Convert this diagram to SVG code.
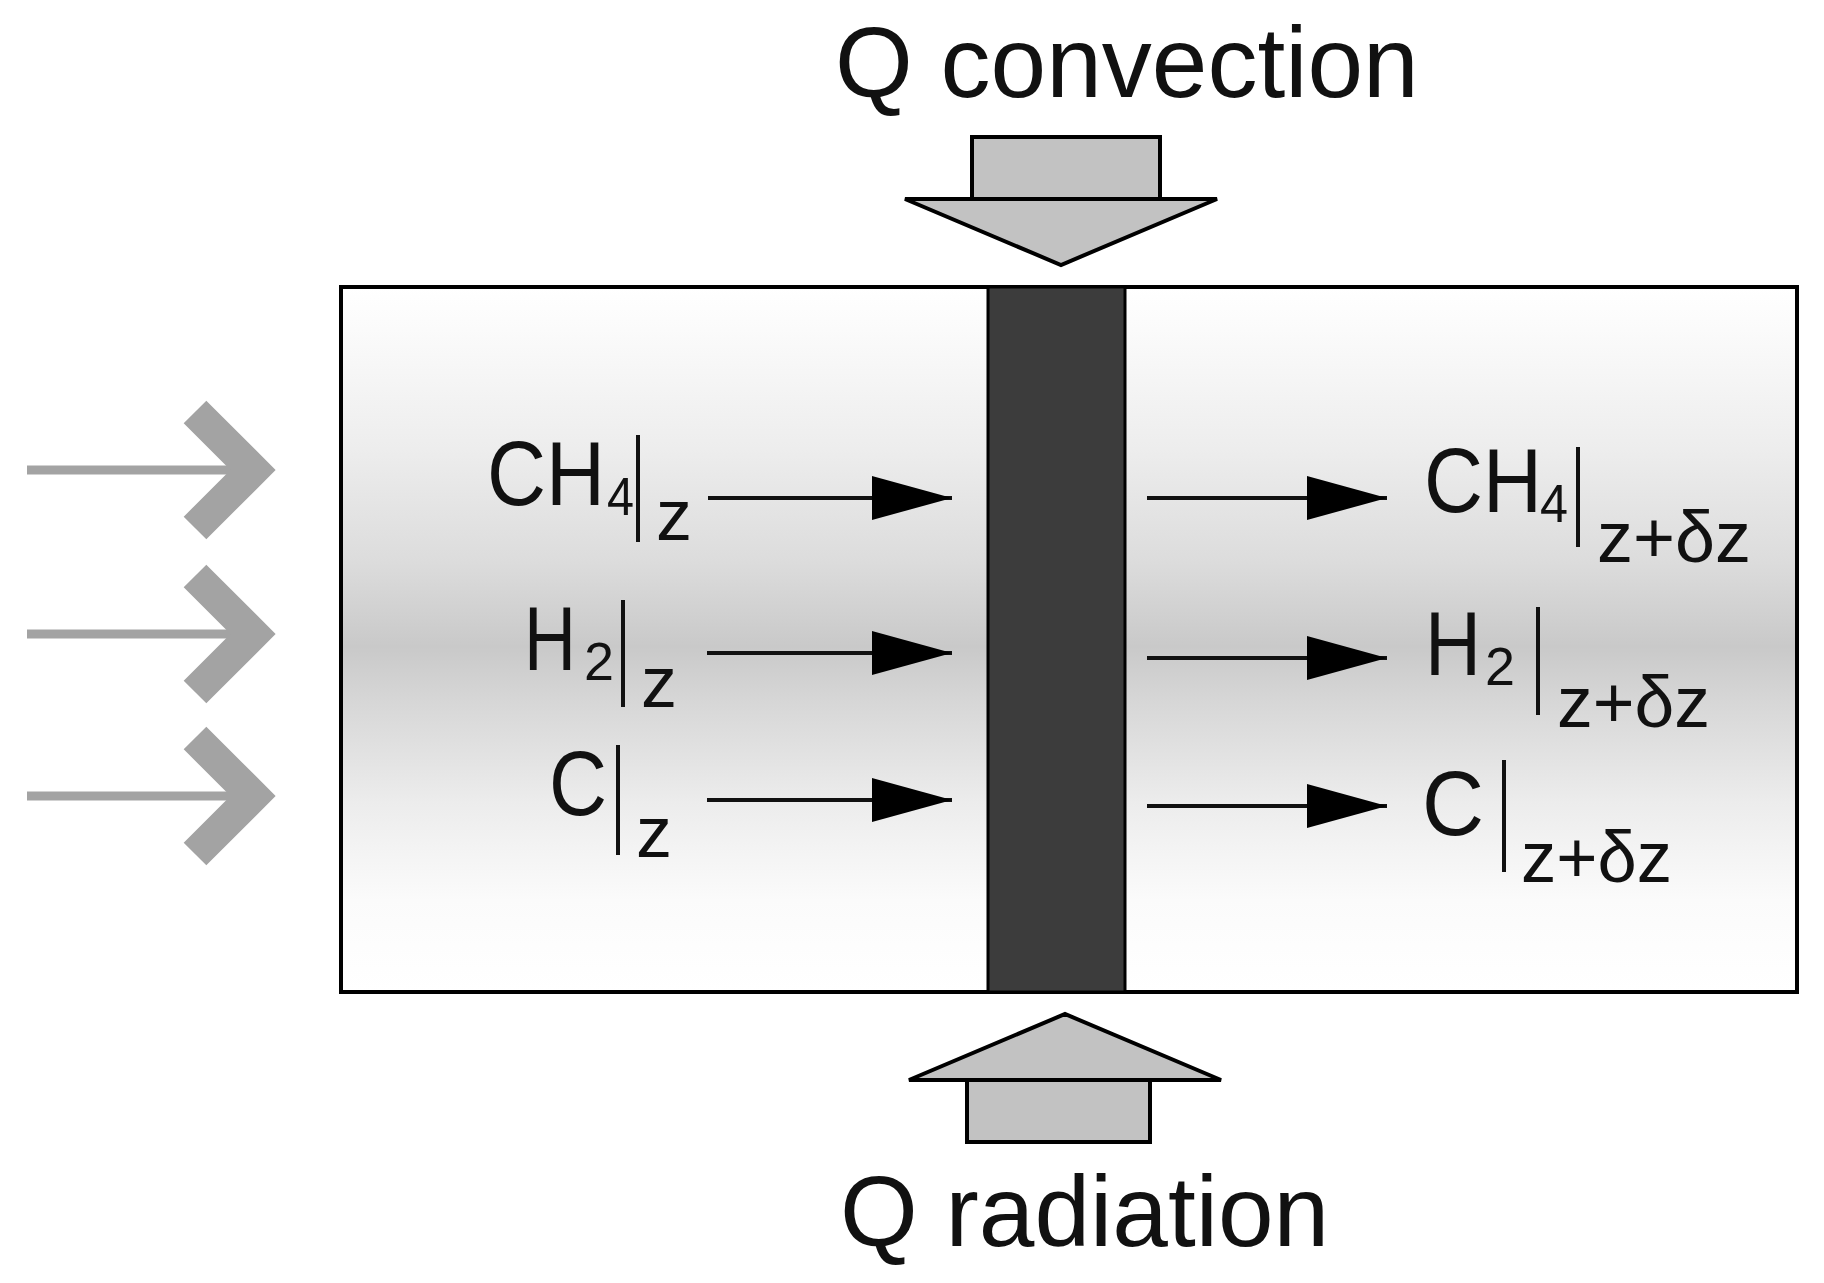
<svg xmlns="http://www.w3.org/2000/svg" width="1824" height="1283" viewBox="0 0 1824 1283">
<defs>
<linearGradient id="bg" x1="0" y1="0" x2="0" y2="1">
<stop offset="0" stop-color="#ffffff"/>
<stop offset="0.06" stop-color="#fbfbfb"/>
<stop offset="0.23" stop-color="#ededed"/>
<stop offset="0.39" stop-color="#dcdcdc"/>
<stop offset="0.51" stop-color="#c9c9c9"/>
<stop offset="0.59" stop-color="#d7d7d7"/>
<stop offset="0.73" stop-color="#ececec"/>
<stop offset="0.87" stop-color="#fbfbfb"/>
<stop offset="1" stop-color="#ffffff"/>
</linearGradient>
<marker id="ah" markerUnits="userSpaceOnUse" markerWidth="80" markerHeight="44" refX="80" refY="22" orient="auto">
<path d="M0,0 L80,22 L0,44 Z" fill="#000"/>
</marker>
</defs>
<style>
.t{font-family:"Liberation Sans",Arial,sans-serif;fill:#111}
.big{font-size:100px}
.main{font-size:90px}
.sub{font-size:54px}
.zs{font-size:72px}
.bar{stroke:#111;stroke-width:4}
.flow{stroke:#111;stroke-width:4;fill:none;marker-end:url(#ah)}
.gl{stroke:#a3a3a3;stroke-width:9}
.gc{stroke:#a3a3a3;stroke-width:32;fill:none;stroke-miterlimit:4}
.heat{fill:#c2c2c2;stroke:#000;stroke-width:4;stroke-linejoin:miter}
</style>
<rect width="1824" height="1283" fill="#fff"/>

<g id="channel">
<rect x="341" y="287" width="1456" height="705" fill="url(#bg)" stroke="#000" stroke-width="4"/>
</g>
<g id="wall">
<rect x="988" y="287" width="137" height="705" fill="#3c3c3c" stroke="#000" stroke-width="3"/>
</g>

<g id="q-convection">
<text class="t big" x="835" y="97">Q convection</text>
<rect class="heat" x="972" y="137" width="188" height="62"/>
<path class="heat" d="M905,199 L1217,199 L1061,265 Z"/>
</g>

<g id="q-radiation">
<path class="heat" d="M909,1080 L1221,1080 L1065,1014 Z"/>
<rect class="heat" x="967" y="1080" width="183" height="62"/>
<text class="t big" x="840" y="1246">Q radiation</text>
</g>

<g id="inlet-arrows">
<line class="gl" x1="27" y1="470" x2="262" y2="470"/>
<polyline class="gc" points="195,412 253,470 195,528"/>
<line class="gl" x1="27" y1="634" x2="262" y2="634"/>
<polyline class="gc" points="195,576 253,634 195,692"/>
<line class="gl" x1="27" y1="796" x2="262" y2="796"/>
<polyline class="gc" points="195,738 253,796 195,854"/>
</g>

<g id="label-ch4-z">
<text class="t main" x="487" y="505" textLength="118" lengthAdjust="spacingAndGlyphs">CH</text>
<text class="t sub" x="607" y="515" textLength="27" lengthAdjust="spacingAndGlyphs">4</text>
<line class="bar" x1="638" y1="435" x2="638" y2="542"/>
<text class="t zs" x="656" y="540">z</text>
</g>
<g id="label-h2-z">
<text class="t main" x="524" y="670" textLength="52" lengthAdjust="spacingAndGlyphs">H</text>
<text class="t sub" x="584" y="680" textLength="30" lengthAdjust="spacingAndGlyphs">2</text>
<line class="bar" x1="623" y1="600" x2="623" y2="707"/>
<text class="t zs" x="641" y="707">z</text>
</g>
<g id="label-c-z">
<text class="t main" x="549" y="815" textLength="58" lengthAdjust="spacingAndGlyphs">C</text>
<line class="bar" x1="618" y1="745" x2="618" y2="855"/>
<text class="t zs" x="636" y="857">z</text>
</g>

<g id="label-ch4-zdz">
<text class="t main" x="1424" y="512" textLength="118" lengthAdjust="spacingAndGlyphs">CH</text>
<text class="t sub" x="1540" y="522" textLength="28" lengthAdjust="spacingAndGlyphs">4</text>
<line class="bar" x1="1578" y1="447" x2="1578" y2="547"/>
<text class="t zs" x="1597" y="562" textLength="154" lengthAdjust="spacingAndGlyphs">z+δz</text>
</g>
<g id="label-h2-zdz">
<text class="t main" x="1425" y="675" textLength="56" lengthAdjust="spacingAndGlyphs">H</text>
<text class="t sub" x="1485" y="685" textLength="30" lengthAdjust="spacingAndGlyphs">2</text>
<line class="bar" x1="1538" y1="607" x2="1538" y2="715"/>
<text class="t zs" x="1557" y="727" textLength="153" lengthAdjust="spacingAndGlyphs">z+δz</text>
</g>
<g id="label-c-zdz">
<text class="t main" x="1422" y="835" textLength="62" lengthAdjust="spacingAndGlyphs">C</text>
<line class="bar" x1="1504" y1="760" x2="1504" y2="872"/>
<text class="t zs" x="1521" y="882" textLength="151" lengthAdjust="spacingAndGlyphs">z+δz</text>
</g>

<g id="connectors">
<line class="flow" x1="708" y1="498" x2="952" y2="498"/>
<line class="flow" x1="707" y1="653" x2="952" y2="653"/>
<line class="flow" x1="707" y1="800" x2="952" y2="800"/>
<line class="flow" x1="1147" y1="498" x2="1387" y2="498"/>
<line class="flow" x1="1147" y1="658" x2="1387" y2="658"/>
<line class="flow" x1="1147" y1="806" x2="1387" y2="806"/>
</g>
</svg>
